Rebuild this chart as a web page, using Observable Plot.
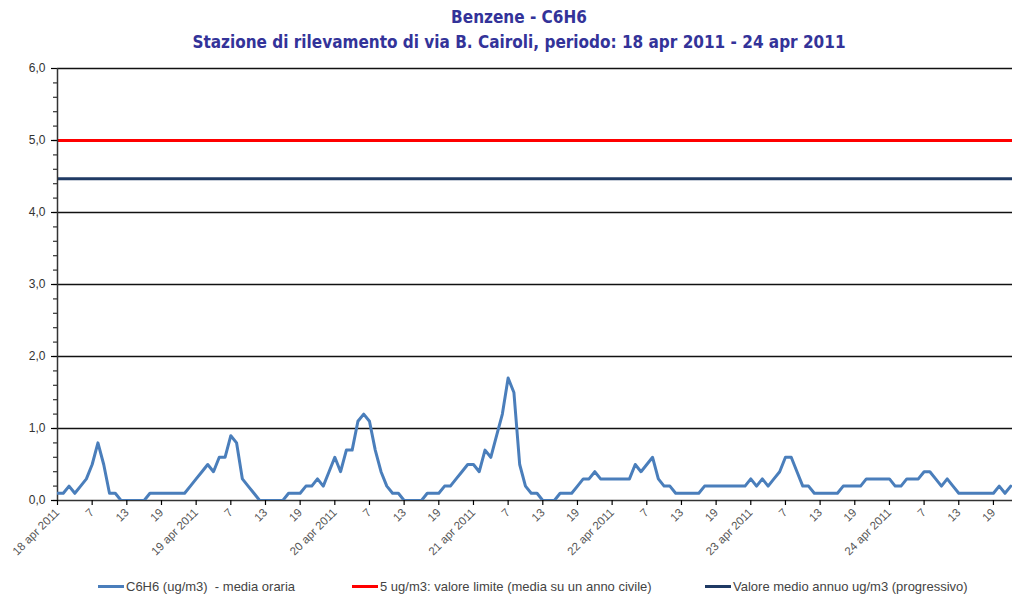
<!DOCTYPE html>
<html>
<head>
<meta charset="utf-8">
<script src="https://cdn.jsdelivr.net/npm/d3@7"></script>
<script src="https://cdn.jsdelivr.net/npm/@observablehq/plot@0.6"></script>
<style>
  html, body { margin: 0; padding: 0; background: #fff; }
  #wrap { position: relative; width: 1012px; height: 594px; overflow: hidden; }
  #title { position: absolute; left: 26px; top: 5px; width: 986px; text-align: center;
    font-family: "Liberation Sans Narrow", "DejaVu Sans Condensed", "Liberation Sans", sans-serif;
    font-weight: bold; font-size: 17px; line-height: 25px; color: #333399; }
  #chart { position: absolute; left: 0; top: 55px; }
  .leg { position: absolute; top: 578px; height: 16px; display: flex; align-items: center;
    font-family: "Liberation Sans Narrow", "Liberation Sans", sans-serif; font-size: 13px; color: #444; white-space: pre; }
  .sw { display: inline-block; width: 26px; height: 3px; margin-right: 2px; }
</style>
</head>
<body>
<div id="wrap">
  <div id="title"></div>
  <div id="chart"></div>
  <div id="legend"></div>
</div>
<script>
// ---- data ----
const titleLines = ["Benzene - C6H6", "Stazione di rilevamento di via B. Cairoli, periodo: 18 apr 2011 - 24 apr 2011"];

// hourly C6H6 values (ug/m3), from 18 apr 2011 hour 1 onwards
const hourlyValues = [
  0.1,0.1,0.2,0.1,0.2,0.3,0.5,0.8,0.5,0.1,0.1,0.0,0.0,0.0,0.0,0.0,0.1,0.1,0.1,0.1,0.1,0.1,0.1,0.2,
  0.3,0.4,0.5,0.4,0.6,0.6,0.9,0.8,0.3,0.2,0.1,0.0,0.0,0.0,0.0,0.0,0.1,0.1,0.1,0.2,0.2,0.3,0.2,0.4,
  0.6,0.4,0.7,0.7,1.1,1.2,1.1,0.7,0.4,0.2,0.1,0.1,0.0,0.0,0.0,0.0,0.1,0.1,0.1,0.2,0.2,0.3,0.4,0.5,
  0.5,0.4,0.7,0.6,0.9,1.2,1.7,1.5,0.5,0.2,0.1,0.1,0.0,0.0,0.0,0.1,0.1,0.1,0.2,0.3,0.3,0.4,0.3,0.3,
  0.3,0.3,0.3,0.3,0.5,0.4,0.5,0.6,0.3,0.2,0.2,0.1,0.1,0.1,0.1,0.1,0.2,0.2,0.2,0.2,0.2,0.2,0.2,0.2,
  0.3,0.2,0.3,0.2,0.3,0.4,0.6,0.6,0.4,0.2,0.2,0.1,0.1,0.1,0.1,0.1,0.2,0.2,0.2,0.2,0.3,0.3,0.3,0.3,
  0.3,0.2,0.2,0.3,0.3,0.3,0.4,0.4,0.3,0.2,0.3,0.2,0.1,0.1,0.1,0.1,0.1,0.1,0.1,0.2,0.1,0.2
];
const limitValue = [5];          // 5 ug/m3 valore limite
const annualMean = [4.47];       // valore medio annuo (progressivo)
const gridValues = [1, 2, 3, 4, 5, 6];
const yTickValues = [0, 1, 2, 3, 4, 5, 6];
const yTickLabels = ["0,0", "1,0", "2,0", "3,0", "4,0", "5,0", "6,0"];
const yMinorTicks = d3.range(0, 30).map(k => k / 5);
const xTickLabels = [
  "18 apr 2011","7","13","19",
  "19 apr 2011","7","13","19",
  "20 apr 2011","7","13","19",
  "21 apr 2011","7","13","19",
  "22 apr 2011","7","13","19",
  "23 apr 2011","7","13","19",
  "24 apr 2011","7","13","19"
];
const xTickStep = 6;
const legendItems = [
  {label: "C6H6 (ug/m3)  - media oraria", color: "#4a7ebb", left: 98},
  {label: "5 ug/m3: valore limite (media su un anno civile)", color: "#ff0000", left: 352},
  {label: "Valore medio annuo ug/m3 (progressivo)", color: "#1f3a64", left: 705}
];

// ---- build ----
document.getElementById("title").innerHTML = titleLines.map(t => `<div>${t}</div>`).join("");

const data = hourlyValues.map((v, i) => ({i, v}));
const xTicks = xTickLabels.map((_, k) => k * xTickStep);

const chart = Plot.plot({
  width: 1012,
  height: 522,
  marginLeft: 57,
  marginRight: 0,
  marginTop: 13,
  marginBottom: 77,
  style: {fontFamily: "'Liberation Sans', Arial, sans-serif", background: "#fff"},
  x: {domain: [0, 165.3], axis: null},
  y: {domain: [0, 6], axis: null},
  marks: [
    Plot.ruleY(gridValues, {stroke: "#111", strokeWidth: 1.3}),
    Plot.ruleY(limitValue, {stroke: "#ff0000", strokeWidth: 3}),
    Plot.ruleY(annualMean, {stroke: "#1f3a64", strokeWidth: 3}),
    Plot.axisY(yMinorTicks, {tickSize: 4, text: null, label: null, stroke: "#333", strokeWidth: 1.2}),
    Plot.axisY(yTickValues, {tickSize: 6, tickPadding: 6, fontSize: 12, fill: "#333", label: null,
      tickFormat: d => yTickLabels[yTickValues.indexOf(d)], strokeWidth: 1.2}),
    Plot.ruleX([0], {stroke: "#333", strokeWidth: 1.5}),
    Plot.ruleY([0], {stroke: "#333", strokeWidth: 1.5}),
    Plot.axisX(xTicks, {tickSize: 5, tickPadding: 5, tickRotate: -45, fontSize: 11.5, fill: "#555", label: null,
      tickFormat: d => xTickLabels[d / xTickStep], strokeWidth: 1.2}),
    Plot.line(data, {x: "i", y: "v", stroke: "#4a7ebb", strokeWidth: 3, strokeLinejoin: "round", clip: true})
  ]
});
document.getElementById("chart").appendChild(chart);

const legend = document.getElementById("legend");
for (const it of legendItems) {
  const d = document.createElement("div");
  d.className = "leg";
  d.style.left = it.left + "px";
  d.innerHTML = `<span class="sw" style="background:${it.color}"></span><span>${it.label}</span>`;
  legend.appendChild(d);
}
</script>
</body>
</html>
